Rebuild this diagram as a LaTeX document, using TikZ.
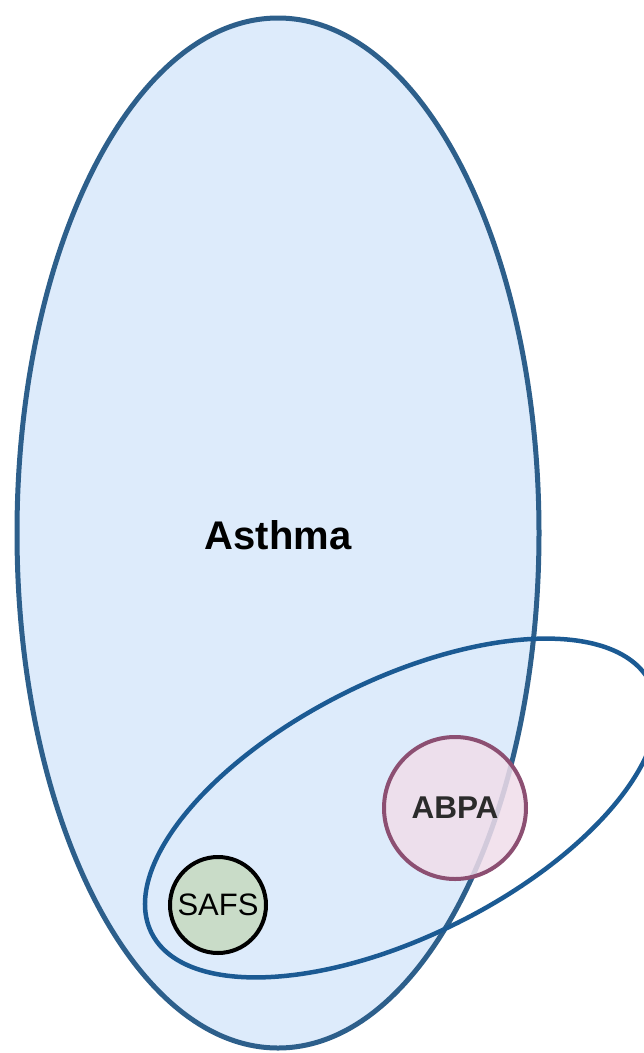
\documentclass[tikz,border=0pt]{standalone}
\usepackage{fontspec}
\setmainfont{Liberation Sans}
\usetikzlibrary{shapes.geometric}
\definecolor{astfill}{HTML}{DDEBFB}
\definecolor{astline}{HTML}{2D5F8B}
\definecolor{tiltline}{HTML}{1B5A93}
\definecolor{abpafill}{HTML}{F0DDEA}
\definecolor{abpaline}{HTML}{8C4F72}
\definecolor{safsfill}{HTML}{C9DCC8}
\definecolor{txtgray}{HTML}{2B2B2B}
\begin{document}
\begin{tikzpicture}[x=1pt,y=-1pt,
  bigell/.style={ellipse, draw=astline, fill=astfill, line width=5pt, inner sep=0pt,
    minimum width=522pt, minimum height=1030pt},
  tiltell/.style={ellipse, draw=tiltline, line width=4.5pt, inner sep=0pt,
    minimum width=558pt, minimum height=256pt, rotate=26.6},
  abpacirc/.style={circle, draw=abpaline, fill=abpafill, fill opacity=0.85, text opacity=1,
    line width=4pt, inner sep=0pt, minimum size=142pt, text=txtgray,
    font=\fontsize{31.5}{38}\selectfont\bfseries},
  safscirc/.style={circle, draw=black, fill=safsfill, line width=4pt, inner sep=0pt,
    minimum size=96pt, font=\fontsize{31}{37}\selectfont},
  bigtxt/.style={font=\fontsize{40}{48}\selectfont\bfseries, text=black, inner sep=0pt}
]
\useasboundingbox (0,0) rectangle (644,1053);
\clip (0,0) rectangle (644,1053);
\node[bigell] (asthma) at (278,533) {};
\node[bigtxt] (asthmatxt) at (278,535) {Asthma};
\node[tiltell] (tilt) at (401,808) {};
\node[safscirc] (safs) at (218,905) {SAFS};
\node[abpacirc] (abpa) at (455,808) {ABPA};
\end{tikzpicture}
\end{document}
